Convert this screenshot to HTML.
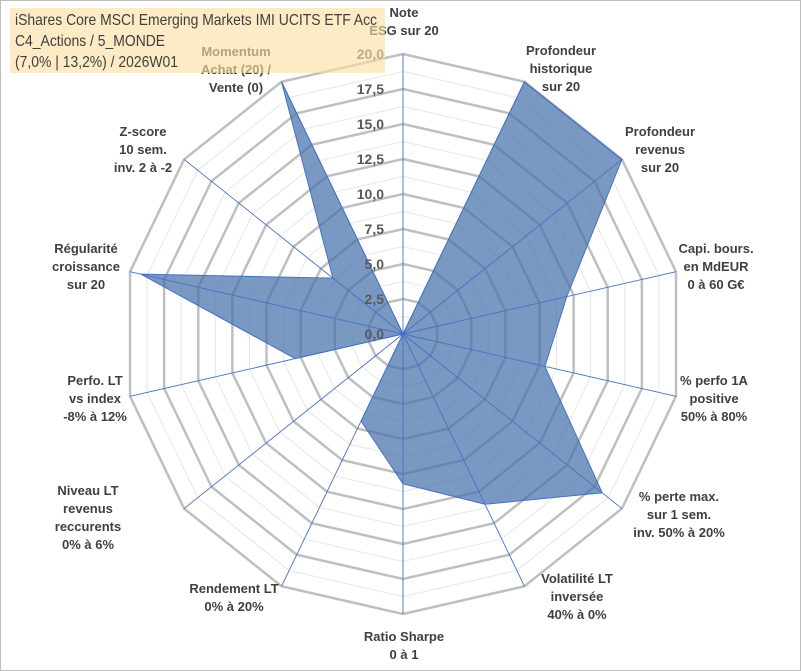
<!DOCTYPE html>
<html><head><meta charset="utf-8"><style>
body{margin:0;background:#fff;}
#wrap{position:relative;width:801px;height:671px;overflow:hidden;font-family:"Liberation Sans",sans-serif;}
#frame{position:absolute;left:0;top:0;width:799px;height:669px;border:1px solid #bdbdbd;}
.lbl{position:absolute;font-weight:bold;font-size:13px;color:#404040;text-align:center;line-height:18px;white-space:nowrap;transform:translate(-50%,-50%);}
#titlebox{position:absolute;left:10px;top:8px;width:375px;height:65px;background:rgba(250,222,160,0.62);}
#title{position:absolute;left:15px;top:10px;font-size:16px;line-height:21px;color:#404040;transform:scaleX(0.87);transform-origin:0 0;white-space:nowrap;}
</style></head><body>
<div id="wrap">
<div id="frame"></div>
<svg id="chart" width="801" height="671" style="position:absolute;left:0;top:0"></svg>
<div id="labels"></div>
<div id="titlebox"></div>
<div id="title">iShares Core MSCI Emerging Markets IMI UCITS ETF Acc<br>C4_Actions / 5_MONDE<br>(7,0% | 13,2%) / 2026W01</div>
</div>
<script>
const categories=["Note|ESG sur 20","Profondeur|historique|sur 20","Profondeur|revenus|sur 20","Capi. bours.|en MdEUR|0 à 60 G€","% perfo 1A|positive|50% à 80%","% perte max.|sur 1 sem.|inv. 50% à 20%","Volatilité LT|inversée|40% à 0%","Ratio Sharpe|0 à 1","Rendement LT|0% à 20%","Niveau LT|revenus|reccurents|0% à 6%","Perfo. LT|vs index|-8% à 12%","Régularité|croissance|sur 20","Z-score|10 sem.|inv. 2 à -2","Momentum|Achat (20) /|Vente (0)"];
const values=[0,20,20,12,10.4,18.2,13.5,10.7,6.9,0,7.9,19.2,6.4,20];
const tickValues=[0,2.5,5,7.5,10,12.5,15,17.5,20];
const tickLabels=["0,0","2,5","5,0","7,5","10,0","12,5","15,0","17,5","20,0"];
const maxV=20;
const cx=403,cy=334,R=280;
const N=categories.length;
const NS="http://www.w3.org/2000/svg";
const svg=document.getElementById('chart');
function ang(i){return i*2*Math.PI/N;}
function pt(i,v){const r=v/maxV*R;return [cx+r*Math.sin(ang(i)),cy-r*Math.cos(ang(i))];}
function mk(t,a){const e=document.createElementNS(NS,t);for(const k in a)e.setAttribute(k,a[k]);svg.appendChild(e);return e;}
for(let k=1;k<16;k+=2){const v=k*1.25;let p=[];for(let i=0;i<N;i++)p.push(pt(i,v).join(','));
const e=mk('polygon',{points:p.join(' '),fill:'none',stroke:'#e6e6e6','stroke-width':1});

}
tickValues.forEach(v=>{if(v===0)return;let p=[];for(let i=0;i<N;i++)p.push(pt(i,v).join(','));
const e=mk('polygon',{points:p.join(' '),fill:'none',stroke:'#bfbfbf','stroke-width':2.5});

});
let dp=values.map((v,i)=>pt(i,v).join(','));
const poly=mk('polygon',{points:dp.join(' '),fill:'rgba(70,114,170,0.72)',stroke:'#4472c4','stroke-width':1});


for(let i=0;i<N;i++){const [x,y]=pt(i,maxV);
const e=mk('line',{x1:cx,y1:cy,x2:x,y2:y,stroke:'#4472c4','stroke-width':0.9});

}
tickValues.forEach((v,j)=>{const t=mk('text',{x:cx-19,y:cy-v/maxV*R+5,'text-anchor':'end','font-size':14,'font-weight':'bold',fill:'#595959','font-family':'Liberation Sans, sans-serif'});
t.textContent=tickLabels[j];

});
const lpos=[[404,22],[561,69],[660,150],[716,267],[714,399],[679,515],[577,597],[404,646],[234,598],[88,518],[95,399],[86,267],[143,150],[236,70]];
const L=document.getElementById('labels');
categories.forEach((c,i)=>{const d=document.createElement('div');d.className='lbl';
d.style.left=lpos[i][0]+'px';d.style.top=lpos[i][1]+'px';
d.innerHTML=c.split('|').join('<br>');


L.appendChild(d);});
</script>
</body></html>
